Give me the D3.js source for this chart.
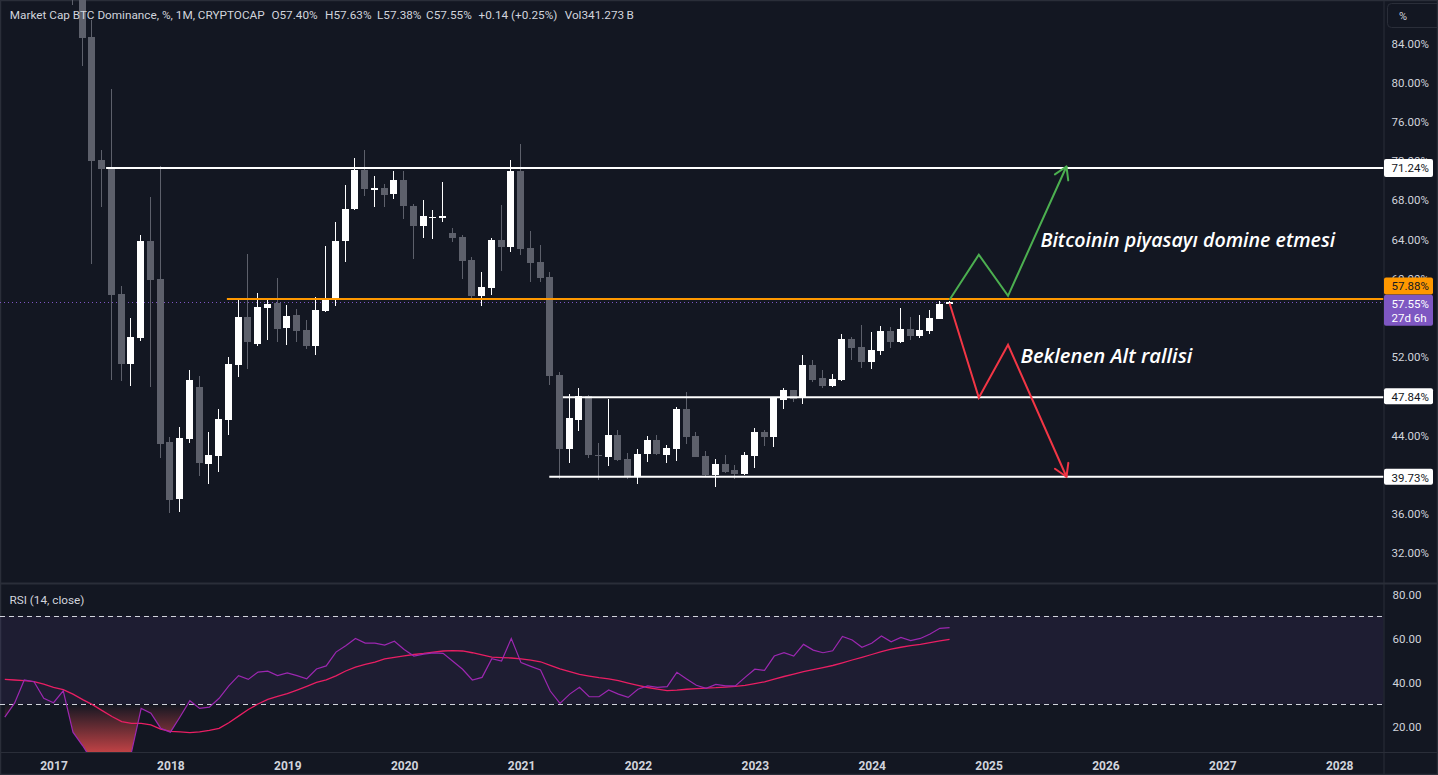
<!DOCTYPE html>
<html><head><meta charset="utf-8">
<script src="https://cdn.jsdelivr.net/npm/d3@7"></script>
<style>html,body{margin:0;padding:0;background:#131722;overflow:hidden}text{font-family:Roboto,"Noto Sans",sans-serif}</style>
</head><body><svg id="c" width="1438" height="775"></svg>
<script>
// ---------------- DATA ----------------
const months = [
"2016-08","2016-09","2016-10","2016-11","2016-12",
"2017-01","2017-02","2017-03","2017-04","2017-05","2017-06","2017-07","2017-08","2017-09","2017-10","2017-11","2017-12",
"2018-01","2018-02","2018-03","2018-04","2018-05","2018-06","2018-07","2018-08","2018-09","2018-10","2018-11","2018-12",
"2019-01","2019-02","2019-03","2019-04","2019-05","2019-06","2019-07","2019-08","2019-09","2019-10","2019-11","2019-12",
"2020-01","2020-02","2020-03","2020-04","2020-05","2020-06","2020-07","2020-08","2020-09","2020-10","2020-11","2020-12",
"2021-01","2021-02","2021-03","2021-04","2021-05","2021-06","2021-07","2021-08","2021-09","2021-10","2021-11","2021-12",
"2022-01","2022-02","2022-03","2022-04","2022-05","2022-06","2022-07","2022-08","2022-09","2022-10","2022-11","2022-12",
"2023-01","2023-02","2023-03","2023-04","2023-05","2023-06","2023-07","2023-08","2023-09","2023-10","2023-11","2023-12",
"2024-01","2024-02","2024-03","2024-04","2024-05","2024-06","2024-07","2024-08","2024-09"];
const N=null;
const opens = [N,N,N,N,N, N,N,92.5,89.5,84.6,72.06,71.2,58.4,51.2,53.9,63.8,59.9,
 43.3,37.5,43.6,48.9,41.0,41.9,45.5,51.1,56.0,53.3,57.0,57.5,
 54.9,56.2,54.7,53.1,56.7,57.9,63.8,67.1,71.0,69.1,69.2,68.6,
 70.0,67.4,65.3,66.15,66.2,64.6,64.2,61.9,58.2,59.0,63.9,63.2,
 70.9,63.1,61.7,60.1,50.1,42.6,45.5,48.0,42.0,41.8,44.0,41.55,
 39.7,42.1,43.5,42.0,42.6,46.65,43.9,41.9,39.9,41.0,40.4,40.0,
 41.9,44.3,43.8,47.6,48.6,47.9,51.1,49.8,49.0,49.6,53.8,53.0,
 51.4,52.6,54.6,53.5,54.8,54.1,54.6,55.8,57.40];
const highs = [N,N,N,N,N, N,N,93.0,90.2,86.3,73.1,79.3,59.2,55.9,64.4,68.3,71.4,
 43.8,44.8,50.6,50.0,44.3,46.7,52.0,57.9,62.5,58.5,57.9,60.0,
 57.3,56.9,55.7,58.1,63.3,65.7,69.5,72.3,73.1,70.4,69.6,70.9,
 70.9,67.6,68.0,67.0,69.8,65.1,64.4,62.2,60.6,64.1,67.5,72.1,
 73.7,64.8,63.4,60.6,50.4,48.2,48.8,48.1,43.2,47.7,44.5,42.2,
 42.6,43.9,44.0,43.0,46.9,48.4,44.3,42.4,41.55,42.0,40.9,42.3,
 44.7,44.5,47.9,48.8,48.6,52.2,51.65,50.6,50.2,54.3,54.0,55.2,
 54.5,55.1,55.0,57.0,56.0,56.2,56.8,57.7,57.63];
const lows = [N,N,N,N,N, N,N,87.9,81.7,61.5,67.3,49.6,49.5,49.0,53.6,48.9,41.7,
 36.0,36.1,43.2,39.8,39.0,40.2,44.0,49.9,50.7,53.1,53.7,53.5,
 53.2,53.5,52.8,52.2,56.6,57.2,61.7,67.0,68.4,67.3,67.3,68.1,
 66.0,62.0,64.1,64.0,65.7,63.7,59.9,57.9,57.2,58.3,60.7,62.7,
 62.4,59.6,59.6,49.1,39.5,41.1,44.4,41.7,39.4,40.8,41.3,39.5,
 39.0,41.2,42.0,41.1,41.3,43.1,41.75,39.8,38.7,40.1,39.5,39.9,
 40.6,42.9,42.8,46.7,47.4,47.2,49.4,48.8,48.9,49.5,51.65,50.8,
 50.7,52.2,52.9,53.4,53.7,53.9,54.3,55.8,57.38];
const closes = [N,N,N,N,N, N,N,89.5,84.5,72.0,71.14,58.3,51.2,54.0,63.8,59.8,43.1,
 37.4,43.7,49.6,41.1,42.0,45.6,51.2,56.0,53.5,57.06,57.4,54.8,
 56.1,54.6,53.1,56.8,58.0,63.8,67.1,71.0,69.1,69.2,68.5,70.0,
 67.4,65.3,66.3,66.25,66.3,64.1,61.8,58.2,59.1,63.9,63.2,70.9,
 63.0,61.6,60.0,50.0,42.6,45.7,48.0,42.0,41.9,44.0,41.4,39.8,
 42.1,43.5,42.1,42.7,46.65,43.8,41.8,39.9,41.0,40.2,40.0,42.0,
 44.3,43.8,47.8,48.6,47.7,51.1,49.6,49.0,49.7,53.8,52.9,51.4,
 52.7,54.6,53.5,54.8,54.1,54.7,55.9,57.4,57.55];
const rsi = [24,30.4,40.9,40.1,32.6,
 30.6,36,17.2,11,4,2,2,4,8,28,25.8,19,
 17.2,24.2,31.5,28,28.6,32.6,38.2,42.9,41.2,44.5,44.9,42.9,
 44.1,42.9,41.5,45.9,47.3,53.6,56.5,59.8,57.7,57.7,56.8,58.5,
 54.8,51.8,52.7,53.2,53,49.4,45.8,40.9,42.1,50.6,49.5,59.8,
 48.8,47.1,45.5,35.9,30.3,34.5,37.6,33.3,33.3,36.4,34.5,33,
 36.7,38.2,37.6,37.9,44.4,41.4,38.5,37.1,38.9,38.2,38.2,42.1,
 45.8,45.3,51.8,53.3,51.8,57.1,54.5,53.3,54.2,60.7,59.1,55.8,
 57.6,60.9,58.3,60.3,58.8,59.8,61.8,64.4,64.7];
const rsiMA = [41.2,40.9,40.6,40.2,39,
 37.6,36.5,34.5,32,29.7,27,24.3,22,21.2,21.2,20.5,18.6,
 17.6,17.3,17,17.3,18,18.9,21.5,24.5,27.5,30,32.1,33.5,
 34.7,36.3,38,39.8,41,42.8,45,46.8,48,49,50.5,51.2,
 51.9,52.5,53,53.6,54.1,54.3,54.1,53.3,52.3,51.3,51.1,50.9,
 50.5,49.9,49.2,47.6,46,44.7,43.5,42.7,42,41.4,40.6,39.5,
 38.5,37.5,36.8,36.1,36.3,36.7,37,37.2,37.4,37.7,38,38.5,
 39.3,40.1,41.3,42.5,43.6,44.7,45.6,46.5,47.5,48.7,50,51.2,
 52.5,53.8,54.9,55.8,56.5,57.1,57.9,58.7,59.4];
const yearLabels = ["2017","2018","2019","2020","2021","2022","2023","2024","2025","2026","2027","2028"];
const priceTicks = [84,80,76,72,68,64,60,52,44,36,32];
const rsiTicks = [80,60,40,20];
const levels = [ {v:71.24, from:"2017-06", color:"#ffffff", shift:0.4},
                 {v:57.88, from:"2018-07", color:"#ff9800", shift:-0.2},
                 {v:47.84, from:"2021-05", color:"#ffffff", shift:0.3},
                 {v:39.73, from:"2021-03", color:"#ffffff", shift:0.9} ];
const lastPrice = 57.55;
const greenPath = [["2024-09",57.8],["2024-12",62.4],["2025-03",58.2],["2025-09",71.4]];
const redPath   = [["2024-09",57.45],["2024-12",47.8],["2025-03",53.2],["2025-09",39.74]];
const header = ["Market Cap BTC Dominance, %, 1M, CRYPTOCAP","O57.40%","H57.63%","L57.38%","C57.55%","+0.14 (+0.25%)","Vol341.273\u2009B"];

// ---------------- LAYOUT ----------------
const W=1438,H=775, PR=1383.5, mainBottom=583, rsiTop=584, rsiBottom=752;
const idx = s => (+s.slice(0,4)-2017)*12 + (+s.slice(5,7)-1);
const x = d3.scaleLinear().domain([0,132]).range([53.5,1339.2]);
const y = d3.scaleLinear().domain([84,32]).range([43,552.6]);
const yR = d3.scaleLinear().domain([80,20]).range([594,726]);
const svg = d3.select("#c");
const BG="#131722", TXT="#d1d4dc", UP="#ffffff", DN="#5d606b", GRID="#2a2e39";

svg.append("rect").attr("width",W).attr("height",H).attr("fill",BG);
const defs = svg.append("defs");
defs.append("clipPath").attr("id","cm").append("rect").attr("x",0).attr("y",0).attr("width",PR).attr("height",mainBottom);
defs.append("clipPath").attr("id","cr").append("rect").attr("x",0).attr("y",rsiTop).attr("width",PR).attr("height",rsiBottom-rsiTop);
defs.append("clipPath").attr("id","cos").append("rect").attr("x",0).attr("y",yR(30)).attr("width",PR).attr("height",rsiBottom-yR(30));
const gr = defs.append("linearGradient").attr("id","osg").attr("gradientUnits","userSpaceOnUse")
  .attr("x1",0).attr("x2",0).attr("y1",yR(30)).attr("y2",yR(0));
gr.append("stop").attr("offset",0).attr("stop-color","#ff5252").attr("stop-opacity",0);
gr.append("stop").attr("offset",1).attr("stop-color","#ff5252").attr("stop-opacity",1);

// panel separators
svg.append("line").attr("x1",0).attr("x2",W).attr("y1",mainBottom+0.5).attr("y2",mainBottom+0.5).attr("stroke",GRID).attr("stroke-width",2);
svg.append("line").attr("x1",0).attr("x2",W).attr("y1",rsiBottom+0.5).attr("y2",rsiBottom+0.5).attr("stroke",GRID).attr("stroke-width",1);
svg.append("line").attr("x1",PR+0.5).attr("x2",PR+0.5).attr("y1",0).attr("y2",H).attr("stroke",GRID).attr("stroke-width",1);
svg.append("rect").attr("x",0.5).attr("y",0.5).attr("width",W-1).attr("height",H-1).attr("fill","none").attr("stroke",GRID).attr("stroke-width",1.5);

// ---------------- MAIN PANE ----------------
const gm = svg.append("g").attr("clip-path","url(#cm)");
gm.append("line").attr("x1",0).attr("x2",PR).attr("y1",Math.round(y(lastPrice))+0.5).attr("y2",Math.round(y(lastPrice))+0.5)
  .attr("stroke","#7e57c2").attr("stroke-width",1).attr("stroke-dasharray","1,3");

const candles = months.map((m,i)=>({m:idx(m),o:opens[i],h:highs[i],l:lows[i],c:closes[i]})).filter(d=>d.o!==null);
const cg = gm.append("g").attr("shape-rendering","crispEdges");
candles.forEach(d=>{
  const cx = Math.round(x(d.m));
  const col = d.c>=d.o ? UP : DN;
  cg.append("rect").attr("x",cx-1).attr("width",1).attr("y",y(d.h)).attr("height",Math.max(1,y(d.l)-y(d.h))).attr("fill",col);
  const top = y(Math.max(d.o,d.c)), bot = y(Math.min(d.o,d.c));
  cg.append("rect").attr("x",cx-4).attr("width",7).attr("y",top).attr("height",Math.max(1.5,bot-top)).attr("fill",col);
});

levels.forEach(L=>{
  gm.append("line").attr("x1",x(idx(L.from)+L.shift)).attr("x2",PR).attr("y1",y(L.v)).attr("y2",y(L.v))
    .attr("stroke",L.color).attr("stroke-width",2);
});

function arrow(pts,color){
  const P = pts.map(p=>[x(idx(p[0])),y(p[1])]);
  gm.append("path").attr("d",d3.line()(P)).attr("fill","none").attr("stroke",color).attr("stroke-width",2).attr("stroke-linejoin","miter");
  const a=P[P.length-2], b=P[P.length-1];
  const ang=Math.atan2(b[1]-a[1],b[0]-a[0]), len=14, sp=0.55;
  [ang+Math.PI-sp, ang+Math.PI+sp].forEach(t=>{
    gm.append("line").attr("x1",b[0]).attr("y1",b[1]).attr("x2",b[0]+len*Math.cos(t)).attr("y2",b[1]+len*Math.sin(t))
      .attr("stroke",color).attr("stroke-width",2).attr("stroke-linecap","round");
  });
}
arrow(greenPath,"#4caf50");
arrow(redPath,"#f23645");

function note(txt,xx,yy,target){
  const t = gm.append("text").attr("x",xx).attr("y",yy).text(txt)
    .attr("fill","#ffffff").attr("font-style","italic").attr("font-weight",600)
    .style("font-family","'Open Sans',sans-serif").attr("font-size",19);
  const w = t.node().getComputedTextLength();
  t.attr("font-size",19*target/w);
}
note("Bitcoinin piyasayı domine etmesi",1040.5,246.5,295);
note("Beklenen Alt rallisi",1020.5,362.5,172);

// header: font sized so the title spans the same width as in the reference
const hx=[9.8,271.4,325,377,426,478.6,564.7];
const ht = svg.append("text").attr("x",-999).attr("y",-999).text(header[0]).attr("font-size",12);
const hfs = 12*255/ht.node().getComputedTextLength();
ht.remove();
header.forEach((h,i)=>{
  svg.append("text").attr("x",hx[i]).attr("y",19).text(h).attr("fill",TXT).attr("font-size",hfs);
});

// ---------------- RSI PANE ----------------
const grs = svg.append("g").attr("clip-path","url(#cr)");
grs.append("rect").attr("x",0).attr("width",PR).attr("y",yR(70)).attr("height",yR(30)-yR(70)).attr("fill","rgba(126,87,194,0.1)");
[70,30].forEach(v=>{
  grs.append("line").attr("x1",0).attr("x2",PR).attr("y1",Math.round(yR(v))+0.5).attr("y2",Math.round(yR(v))+0.5)
    .attr("stroke","#d1d4dc").attr("stroke-width",1).attr("stroke-dasharray","5,4");
});
const rs = months.map((m,i)=>({m:idx(m),r:rsi[i],a:rsiMA[i]}));
grs.append("g").attr("clip-path","url(#cos)").append("path")
  .attr("d",d3.area().x(d=>x(d.m)).y0(yR(30)).y1(d=>yR(d.r))(rs)).attr("fill","url(#osg)");
grs.append("path").attr("d",d3.line().x(d=>x(d.m)).y(d=>yR(d.a))(rs)).attr("fill","none").attr("stroke","#e91e63").attr("stroke-width",1.3);
grs.append("path").attr("d",d3.line().x(d=>x(d.m)).y(d=>yR(d.r))(rs)).attr("fill","none").attr("stroke","#9c27b0").attr("stroke-width",1.2);
svg.append("text").attr("x",9.5).attr("y",603.5).text("RSI (14, close)").attr("fill",TXT).attr("font-size",hfs);

// ---------------- AXES ----------------
const ya = svg.append("g").attr("transform",`translate(${PR},0)`)
  .call(d3.axisRight(y).tickValues(priceTicks).tickSize(0).tickPadding(8).tickFormat(v=>d3.format(".2f")(v)+"%"));
ya.select(".domain").remove();
ya.selectAll("text").attr("fill",TXT).attr("font-size",11.5).attr("font-family","Roboto").attr("dy","0.36em");
const yra = svg.append("g").attr("transform",`translate(${PR},0)`)
  .call(d3.axisRight(yR).tickValues(rsiTicks).tickSize(0).tickPadding(9).tickFormat(d3.format(".2f")));
yra.select(".domain").remove();
yra.selectAll("text").attr("fill",TXT).attr("font-size",11.5).attr("font-family","Roboto").attr("dy","0.36em");
const xa = svg.append("g").attr("transform",`translate(0,${rsiBottom})`)
  .call(d3.axisBottom(x).tickValues(yearLabels.map(s=>idx(s+"-01"))).tickSize(0).tickPadding(9).tickFormat((d,i)=>yearLabels[i]));
xa.select(".domain").remove();
xa.selectAll("text").attr("fill",TXT).attr("font-size",12).attr("font-weight",700).attr("font-family","Roboto");

svg.append("rect").attr("x",1387.5).attr("y",3.5).attr("width",60).attr("height",24).attr("rx",4).attr("fill","none").attr("stroke","#2a2e39");
svg.append("text").attr("x",1399).attr("y",20).text("%").attr("fill",TXT).attr("font-size",11);

function tag(yc,h,bg,fg,lines){
  svg.append("rect").attr("x",PR+0.5).attr("y",yc-h/2).attr("width",49).attr("height",h).attr("rx",2).attr("fill",bg);
  lines.forEach((s,i)=>{
    svg.append("text").attr("x",PR+8).attr("y",yc-h/2+13+i*14).text(s).attr("fill",fg).attr("font-size",11.5);
  });
}
tag(y(71.24),18,"#ffffff","#131722",["71.24%"]);
tag(y(47.84)-1,16,"#ffffff","#131722",["47.84%"]);
tag(y(39.73),16,"#ffffff","#131722",["39.73%"]);
tag(y(57.88)-13,17,"#ff9800","#131722",["57.88%"]);
tag(y(lastPrice)+8,31,"#7e57c2","#ffffff",["57.55%","27d 6h"]);
</script></body></html>
